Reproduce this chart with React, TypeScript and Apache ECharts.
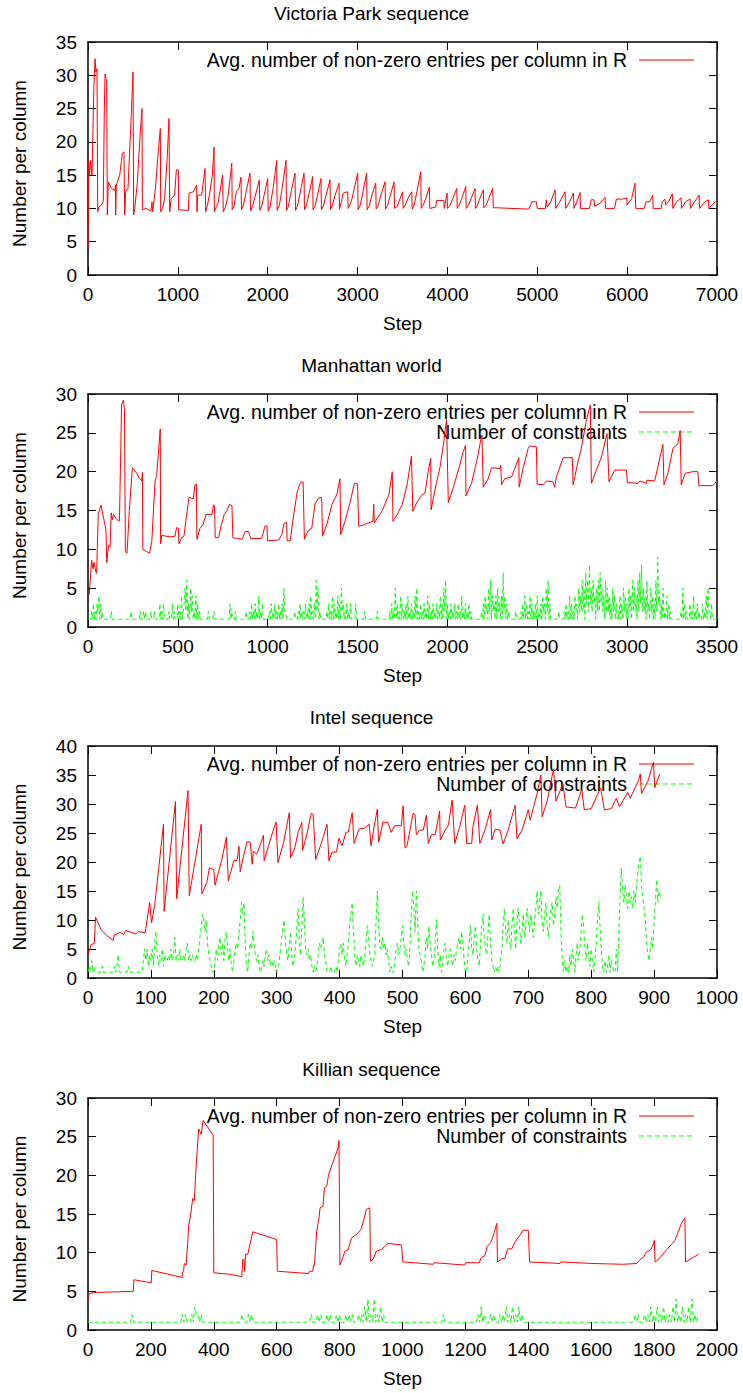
import React, { useEffect, useRef } from "react";
import * as echarts from "echarts";

const FONT = "'Liberation Sans', Arial, Helvetica, sans-serif";

const titles = ["Victoria Park sequence", "Manhattan world", "Intel sequence", "Killian sequence"];
const xMaxes = [7000, 3500, 1000, 2000];
const xIntervals = [1000, 500, 100, 200];
const yMaxes = [35, 30, 40, 30];
const yInterval = 5;
const xName = "Step";
const yName = "Number per column";
const legendR = "Avg. number of non-zero entries per column in R";
const legendC = "Number of constraints";

// Victoria Park: avg non-zeros per column (step, value)
const victoriaR = [
  [0,4],[8,17],[18,15],[28,17.2],[45,15],[65,28],[78,32.5],[88,30.5],[100,31],[108,9.5],[120,10.2],[150,10.5],[170,11],[182,25],[190,30.2],[208,29],[215,9],[226,14],[260,13],[300,12.7],[305,13.5],[308,9],[315,13.5],[353,15],[382,18.3],[400,18.5],[408,9],[419,12.5],[445,13],[475,22],[501,30.5],[508,9],[520,10],[550,14],[575,20],[601,25],[605,9.8],[649,10],[700,9.6],[712,11],[720,9.5],[750,13],[779,18],[805,22],[809,9.5],[830,10],[853,11.5],[883,18],[901,23.5],[909,9.5],[927,11.5],[964,12],[983,15.8],[1005,15.8],[1009,9.8],[1117,9.7],[1124,12.3],[1172,12.5],[1209,13.5],[1213,9.5],[1220,12],[1265,12],[1302,16],[1310,9.5],[1330,10.5],[1350,12],[1384,15],[1403,19.2],[1406,9.5],[1430,10.3],[1450,11],[1498,15],[1505,9.5],[1530,10.2],[1560,12],[1600,16.8],[1605,9.8],[1625,10.3],[1650,12.5],[1680,13],[1703,14.7],[1708,9.8],[1730,10.5],[1760,12.5],[1803,15.3],[1808,9.6],[1830,10.3],[1860,11.8],[1907,14.3],[1912,9.7],[1935,10.4],[1960,12],[2000,14.5],[2005,9.6],[2025,10.2],[2060,13],[2100,17.2],[2105,9.7],[2130,10.5],[2160,13],[2204,17.2],[2209,9.7],[2230,10.3],[2260,12.5],[2304,15.3],[2309,9.7],[2330,10.3],[2360,12.3],[2404,15.3],[2409,9.8],[2430,10.4],[2460,12.2],[2500,14.8],[2505,9.8],[2525,10.3],[2555,12],[2593,14.5],[2598,9.8],[2620,10.4],[2650,12],[2693,14.3],[2698,9.8],[2720,10.5],[2750,12],[2794,13.8],[2799,9.9],[2820,11],[2840,12.3],[2890,12.5],[2895,10],[2930,11],[2960,12.8],[3001,15.3],[3006,9.8],[3030,10.5],[3060,12.5],[3101,15.3],[3106,9.8],[3130,10.4],[3160,12],[3202,13.8],[3207,9.9],[3230,10.5],[3260,12],[3306,14],[3311,9.9],[3335,10.5],[3365,12],[3406,14],[3411,10],[3440,10.3],[3460,11],[3502,12.5],[3507,10],[3530,10.5],[3560,11.5],[3603,12.5],[3608,9.9],[3630,10.5],[3660,12.5],[3703,15.5],[3708,10],[3730,10.5],[3760,11.5],[3799,13.2],[3804,10],[3870,10.2],[3880,11.2],[3960,11.2],[3965,10],[3996,12.3],[4001,10],[4030,10.5],[4060,11.5],[4104,13],[4109,10],[4130,10.5],[4160,11.5],[4204,13.3],[4209,10],[4235,10.5],[4265,11.5],[4307,13],[4312,10],[4335,10.5],[4360,11.5],[4400,12.8],[4405,10.1],[4430,10.5],[4460,11.5],[4504,13],[4510,10.1],[4540,10.1],[4900,9.9],[4920,10.3],[4940,11],[4990,11],[5000,10],[5090,10],[5100,11.3],[5110,10.2],[5150,11],[5198,12.8],[5205,10],[5250,11],[5309,12.5],[5315,10],[5360,11],[5402,12.3],[5408,10],[5440,11],[5476,12.4],[5480,10],[5580,10],[5600,11.3],[5630,11.3],[5640,10.3],[5700,10.8],[5754,11.7],[5760,10],[5860,10],[5880,11.4],[5950,11.4],[5996,11.6],[6000,10.5],[6050,11.5],[6088,13.8],[6095,10],[6190,10],[6210,11],[6250,11],[6285,12],[6290,10],[6380,10],[6390,11],[6420,11.4],[6430,10.5],[6460,11],[6503,12.2],[6508,10],[6550,11],[6600,11.6],[6605,10],[6650,11],[6700,11.4],[6705,10],[6750,11],[6801,12],[6806,10],[6850,10.8],[6904,11.3],[6910,10],[6980,11]
];

// Manhattan world: avg non-zeros per column
const manhattanR = [
  [0,4],[7,4.2],[20,8.6],[28,7.5],[33,8.3],[45,7],[48,6.9],[57,14.5],[72,15.7],[100,12.5],[104,8.3],[114,10.5],[123,10.3],[129,14.7],[135,13.8],[142,14.5],[155,14],[168,13.7],[175,13.7],[187,28.7],[197,29.2],[203,28],[208,9.7],[217,9.5],[230,15],[247,20.5],[271,19.8],[285,19.2],[299,18.8],[303,19.9],[305,10],[327,9.7],[342,9.5],[355,11],[373,18.8],[382,19.5],[402,25.5],[404,10.7],[410,11.8],[456,11.6],[484,11.7],[493,12.8],[503,12.7],[506,10.7],[521,11.5],[534,11.7],[549,14.5],[562,16.7],[586,16.5],[595,18.3],[603,18.4],[606,11.3],[623,12.7],[640,13.2],[657,14.5],[690,14.5],[698,15.7],[704,15.6],[708,11.5],[727,11.5],[740,13],[758,14.5],[773,15],[788,15.8],[801,15.6],[806,11.5],[857,11.3],[875,12.3],[893,12.3],[905,11.4],[966,11.4],[985,13],[996,13],[999,11.1],[1062,11.2],[1080,12],[1090,13.3],[1105,13.5],[1108,11.1],[1125,11.1],[1145,14.5],[1164,17.4],[1182,18.6],[1197,18.7],[1204,11.3],[1225,12.4],[1245,12.7],[1263,15.8],[1282,16.6],[1300,16.7],[1305,11.7],[1330,13.3],[1358,15.8],[1385,17.1],[1402,19.1],[1406,11.9],[1430,13.6],[1458,16],[1482,18.5],[1500,18.4],[1506,13],[1530,13.1],[1548,13.3],[1585,13.6],[1590,15.8],[1593,13.4],[1610,14],[1638,15],[1675,17.1],[1693,20],[1697,13.6],[1721,14.5],[1749,15.8],[1777,18.5],[1800,22],[1807,14.9],[1829,16],[1857,17],[1875,17.2],[1894,20.2],[1907,21.7],[1909,15.1],[1931,17.7],[1959,20.6],[1977,23.4],[1995,26.7],[2005,16],[2033,18],[2061,20.2],[2088,22.6],[2101,23.4],[2103,16.9],[2134,18.5],[2171,22.2],[2186,24.2],[2192,24.7],[2199,18],[2227,19.1],[2245,20.5],[2292,20.4],[2297,20.8],[2301,18.3],[2319,19.1],[2356,19.3],[2375,20.4],[2397,21.8],[2399,18],[2421,20.4],[2449,23],[2458,23.3],[2495,23.2],[2499,18.4],[2532,18.3],[2551,18.8],[2588,18.7],[2597,18],[2606,19.3],[2644,21.8],[2671,21.8],[2695,21.8],[2699,18.3],[2727,21.3],[2745,23],[2773,26.6],[2795,28.6],[2801,18.5],[2829,20.2],[2857,21.9],[2888,24.9],[2899,18.7],[2931,20.2],[2996,20.2],[3001,18.6],[3060,18.5],[3070,18.8],[3107,18.5],[3110,18.9],[3153,18.8],[3199,23.5],[3205,18.3],[3227,19.8],[3255,23],[3282,23.6],[3295,25.3],[3301,18.3],[3323,19.8],[3366,20],[3393,20],[3399,18.2],[3477,18.2],[3499,18.8]
];

// Manhattan world: number of constraints, one value every 5 steps from step 0 (20 values per 100 steps)
const manhattanCStep = 5;
const manhattanC = [
  1,1,1,1,2,1,3,1,2,1,3,2,4,1,3,1,2,1,1,1,
  1,1,1,1,1,1,2,1,1,1,1,1,1,1,1,1,1,1,1,1,
  1,1,1,1,1,1,1,1,2,1,1,1,1,1,1,1,1,1,2,1,
  1,1,2,1,2,1,1,1,1,1,2,1,1,1,2,1,1,1,1,1,
  3,1,2,1,3,1,1,1,1,1,2,1,1,1,3,1,2,1,1,1,
  3,1,2,1,4,1,2,3,5,2,6,1,3,1,5,2,4,1,2,1,
  4,1,3,1,2,1,1,1,1,1,1,1,1,1,2,1,1,1,1,1,
  2,1,1,1,1,1,1,1,1,1,1,1,1,1,1,1,1,1,3,1,
  2,1,1,1,2,1,1,1,1,1,1,1,1,1,1,1,2,1,1,1,
  2,1,3,1,2,1,3,1,2,1,4,1,2,1,3,1,1,1,1,1,
  1,1,2,1,3,1,2,1,3,1,2,1,3,1,2,1,3,1,5,2,
  2,1,1,1,1,1,1,1,1,1,2,1,1,1,2,1,3,1,2,1,
  2,1,3,1,2,1,3,1,4,1,2,1,3,1,6,2,5,1,2,1,
  1,1,1,1,1,1,2,1,3,1,2,1,4,1,3,1,2,1,4,1,
  3,1,5,2,3,1,2,1,3,1,2,1,3,1,1,1,1,1,3,1,
  1,1,1,1,1,1,1,1,2,1,1,1,1,1,1,1,1,1,1,1,
  1,1,2,1,1,1,1,1,1,1,1,1,1,1,1,1,2,1,3,1,
  2,1,5,1,3,1,2,1,4,1,3,1,2,1,3,1,4,1,2,1,
  3,1,2,1,4,1,5,1,2,1,3,1,2,1,3,1,2,1,4,1,
  3,1,2,1,3,1,2,1,3,1,2,1,4,1,3,1,5,2,6,1,
  3,1,2,1,3,1,2,1,3,1,2,1,3,1,2,1,4,1,2,1,
  3,1,2,1,3,1,2,1,1,1,1,1,1,1,1,1,1,1,2,1,
  3,1,4,2,3,1,5,2,6,1,4,2,3,1,4,1,5,2,3,1,
  4,1,7,2,4,1,3,1,2,1,1,1,1,1,1,1,2,1,1,1,
  1,1,2,1,3,1,4,1,3,1,2,1,4,1,3,1,2,1,3,1,
  4,1,2,1,3,1,4,2,3,1,5,2,6,1,3,1,1,1,1,1,
  1,1,1,1,2,1,1,1,1,1,2,1,3,1,2,1,4,1,3,1,
  2,1,4,2,3,1,5,2,4,2,6,2,5,1,7,3,6,2,8,3,
  5,2,6,3,4,1,5,2,6,2,7,3,5,2,4,1,6,2,5,2,
  4,1,3,1,5,2,4,1,3,1,2,1,4,1,3,1,5,2,4,1,
  3,1,5,2,4,1,6,2,5,2,4,1,6,2,7,3,8,2,5,2,
  4,1,6,2,3,1,5,2,4,1,3,1,6,2,9,3,4,1,3,1,
  5,1,2,1,4,1,3,1,2,1,1,1,1,1,1,1,1,1,1,1,
  2,1,5,1,3,1,2,1,1,1,3,1,2,1,4,1,2,1,3,1,
  2,1,1,1,3,1,2,1,4,1,5,2,2,1,3,1,1,1,1,1,
  1
];

// Intel: avg non-zeros per column
const intelR = [
  [0,4],[5,5.8],[10,5.9],[12,10.5],[21,8.3],[30,7.3],[40,6.5],[42,7.5],[48,7.6],[50,7.9],[57,7.5],[60,8.2],[76,7.6],[80,8],[91,7.8],[98,13],[101,9.5],[106,12.5],[120,26.5],[121,11.5],[139,30.4],[141,13.7],[159,32.3],[161,14.2],[180,26.5],[181,14.5],[189,16.5],[193,19],[200,18.7],[202,16],[213,20.5],[220,24.3],[223,16.7],[232,20.3],[237,20.2],[240,22.7],[242,18.3],[247,20.9],[253,23.5],[258,23.4],[261,19.6],[263,21.9],[268,21.3],[274,23],[279,24.6],[280,20.2],[287,22.8],[293,25],[299,26.9],[302,19.9],[311,23.4],[320,28.5],[322,20.7],[329,22.5],[334,25.1],[340,26.8],[341,22],[348,24.8],[355,28.4],[358,28.2],[362,20.4],[372,23.6],[380,26.5],[383,20.2],[388,21.7],[395,21.7],[399,24.1],[404,22.8],[410,25.1],[414,25.2],[420,28.5],[423,23.2],[431,25.7],[439,25.8],[447,26.5],[450,22.8],[455,26.2],[460,29.1],[462,23.4],[469,26.9],[477,26.8],[482,25.1],[487,26.2],[493,26.3],[498,26.2],[501,29.7],[504,22.4],[507,22.7],[517,28.4],[520,28.1],[522,24.7],[527,25.5],[533,25.5],[538,28.1],[541,23.2],[546,24.7],[552,24.7],[559,28.8],[560,23.8],[568,25.5],[573,26.4],[579,30.7],[583,23.2],[591,26.1],[599,29.8],[602,23.2],[610,23.2],[612,26.1],[619,29.8],[623,23.2],[631,25.5],[640,29],[642,23.8],[647,25.6],[655,25.5],[660,23.1],[668,25.5],[679,29.8],[682,24],[690,25.5],[700,29],[703,27.2],[714,31.8],[720,35],[722,27.8],[730,30.5],[740,36],[744,30.5],[755,33.5],[760,29.5],[775,29.3],[785,32.5],[789,29],[800,29.2],[815,32.8],[821,29],[832,29.2],[840,31],[845,29.5],[858,32],[862,31],[875,34],[878,35.2],[880,31.8],[890,33.9],[899,37.2],[901,32.8],[909,35.2]
];

// Intel: number of constraints (step, value)
const intelC = [
  [0,1],[2,2],[4,1],[6,3],[8,1],[10,2],[12,1],[20,1],[23,2],[25,1],[40,1],[42,2],[44,1],[46,2],[48,4],[50,1],[62,1],[64,2],[66,1],[86,1],[88,3],[90,5],
  [92,3],[94,5],[96,2],[98,4],[100,3],[102,5],[104,2],[106,6],[108,8],[110,4],[112,2],[114,4],[116,3],[118,5],[120,2],[122,4],[124,3],[126,3],[128,4],[130,3],[132,5],[134,3],[136,4],[138,7],[140,3],[142,4],[144,3],[146,5],[148,3],[150,3],[152,4],[154,3],[156,5],[158,6],[160,3],[162,4],[164,3],[166,4],[168,3],[170,3],[172,4],[174,3],[176,5],[178,7],[180,9],[182,11],[184,10],[186,8],[188,10],[190,6],[192,4],[194,3],[196,2],[198,1],[200,1],
  [202,3],[204,5],[206,3],[208,6],[210,7],[212,4],[214,6],[216,3],[218,7],[220,8],[222,5],[224,3],[226,5],[228,2],[230,1],[232,3],[234,5],[236,6],[238,5],[240,8],[242,10],[244,13],[246,11],[248,13],[250,6],[252,2],[254,1],[256,4],[258,6],[260,5],[262,8],[264,6],[266,4],[268,3],[270,4],[272,2],[274,1],
  [276,2],[278,3],[280,2],[282,4],[284,5],[286,3],[288,4],[290,2],[292,3],[294,2],[296,3],[298,2],[300,1],[303,2],[306,5],[309,8],[312,10],[314,6],[316,4],[318,3],[320,6],[322,8],[324,4],[326,2],[328,3],[331,7],[334,12],[336,6],[338,4],[340,9],[342,14],[344,10],[346,5],[348,4],[350,5],[352,3],[354,4],[356,2],
  [358,1],[360,2],[362,1],[364,2],[366,4],[368,6],[370,5],[372,6],[374,7],[376,4],[378,3],[380,1],[384,1],[386,2],[388,1],[392,1],[394,2],[396,1],[398,3],[400,5],[402,6],[404,4],[406,6],[408,3],[410,2],[412,4],[414,6],[416,9],[418,11],[420,13],[422,8],[424,4],[426,2],[428,4],[430,3],[432,2],[434,4],[436,3],[438,2],[440,4],[442,6],[444,9],[446,7],[448,4],[450,3],[452,2],[454,3],[456,4],[458,10],[460,15],[462,9],[464,6],[466,5],[468,7],[470,5],[472,6],[474,4],[476,5],[478,3],[480,1],[482,2],[484,1],[486,1],[488,3],[490,5],[492,6],[494,4],[496,5],[498,7],[500,9],[502,6],[504,4],[506,5],[508,3],[510,2],[512,6],[514,11],[516,15],[518,12],[520,8],[522,15],[524,10],[526,5],[528,4],[530,3],
  [532,1],[534,2],[536,4],[538,7],[540,5],[542,9],[544,6],[546,4],[548,2],[550,3],[552,6],[554,10],[556,5],[558,2],[560,4],[562,1],[564,3],[566,5],[568,6],[570,3],[572,2],[574,4],[576,5],[578,3],[580,2],[582,4],[584,3],[586,5],[588,6],[590,7],[592,5],[594,8],[596,6],[598,3],[600,1],[602,1],[604,4],[606,6],[608,9],[610,5],[612,4],[614,7],[616,9],[618,5],[620,3],[622,2],[624,6],[626,9],[628,11],[630,7],[632,5],[634,4],[636,8],[638,11],[640,6],[642,3],[644,2],[646,1],[648,2],[650,1],[652,2],[654,1],[656,3],[658,5],[660,9],[662,12],[664,8],[666,6],[668,10],[670,7],[672,5],[674,9],[676,12],[678,8],[680,5],[682,10],[684,12],[686,9],[688,6],[690,8],[692,11],[694,7],[696,9],[698,12],[700,10],[702,8],[704,11],[706,9],[708,7],[710,10],[712,12],[714,15],[716,11],[718,13],[720,15],[722,10],[724,8],[726,11],[728,13],[730,9],[732,7],[734,10],[736,12],[738,13],[740,9],[742,11],[744,14],[746,12],[748,15],[750,16],[752,8],[754,3],[756,1],[758,3],[760,1],[762,2],[764,1],[766,4],[768,2],[770,5],[772,3],[774,1],[776,4],[778,6],[780,3],[782,5],[784,8],[786,11],[788,9],[790,5],[792,3],[794,6],[796,4],[798,2],[800,5],[802,3],[804,1],[806,3],[808,6],[810,10],[812,13],[814,9],[816,5],[818,2],[820,1],[822,3],[824,1],[826,2],[828,4],[830,1],[832,3],[834,2],[836,1],[838,1],[840,5],[842,1],[844,8],[846,14],[848,19],[850,15],[852,13],[854,16],[856,14],[858,12],[860,15],[862,13],[864,14],[866,12],[868,15],[870,13],[872,16],[874,18],[876,20],[878,21],[880,16],[882,14],[884,12],[886,10],[888,6],[890,4],[892,3],[894,5],[896,7],[898,5],[900,10],[902,13],[904,17],[906,13],[908,15],[910,14]
];

// Killian: avg non-zeros per column
const killianR = [
  [0,4],[4,4.7],[20,4.85],[144,5],[146,6.5],[201,6.1],[203,7.7],[299,6.8],[301,7.5],[304,7.6],[306,8.6],[312,8.4],[318,11.9],[320,13.5],[325,14.5],[333,17],[338,16.7],[344,21.3],[352,26],[360,25.3],[366,27.1],[398,25.2],[400,7.4],[452,7.2],[489,6.9],[492,9.1],[496,9.1],[498,7.6],[501,9.8],[508,9.8],[524,12.7],[600,11.7],[602,7.6],[701,7.3],[704,7.6],[715,7.6],[717,8.4],[720,8.4],[727,12.7],[734,14.4],[738,15.8],[747,16],[752,18.4],[759,18.6],[765,20.1],[778,21.6],[787,22.6],[795,23.5],[798,24.5],[801,8.4],[806,8.9],[817,10.2],[827,10.4],[838,11.9],[848,12.2],[858,12.5],[869,13.1],[880,14.7],[885,15.6],[896,15.8],[898,8.9],[906,9.1],[917,10.2],[933,10.4],[943,10.8],[954,11.2],[997,11],[1001,8.8],[1098,8.5],[1101,8.7],[1198,8.4],[1201,8.7],[1244,8.7],[1251,9.4],[1262,9.6],[1269,10.8],[1280,11.3],[1288,12.1],[1300,13.8],[1302,8.8],[1316,9.2],[1326,9.3],[1334,10.5],[1348,10.5],[1358,11.4],[1369,12],[1376,12.4],[1383,12.9],[1400,12.9],[1404,8.8],[1501,8.6],[1504,8.8],[1602,8.6],[1702,8.5],[1745,8.6],[1755,9.1],[1766,9.4],[1776,10.1],[1787,10.3],[1795,10.8],[1801,11.6],[1803,8.8],[1813,9.1],[1830,9.9],[1840,10.4],[1856,11.1],[1866,11.6],[1877,12.7],[1887,13.8],[1898,14.5],[1900,8.8],[1925,9.4],[1941,9.8]
];

// Killian: number of constraints, one value every 5 steps from step 0 (20 values per 100 steps)
const killianCStep = 5;
const killianC = [
  1,1,1,1,1,1,1,1,1,1,1,1,1,1,1,1,1,1,1,1,
  1,1,1,1,1,1,1,1,2,1,1,1,1,1,1,1,1,1,1,1,
  1,1,1,1,1,1,1,1,1,1,1,1,1,1,1,1,1,1,1,1,
  2,1,2,1,1,1,2,1,3,2,2,1,2,1,1,1,1,1,1,1,
  1,1,1,1,1,1,1,1,1,1,1,1,1,1,1,1,1,1,2,1,
  1,1,2,1,2,1,1,1,1,1,1,1,1,1,1,1,1,1,1,1,
  1,1,1,1,1,1,1,1,1,1,1,1,1,1,1,1,1,1,1,1,
  1,1,2,1,1,1,2,1,2,1,1,1,2,1,2,1,1,1,2,1,
  2,1,1,1,2,1,2,1,2,1,1,1,2,1,2,1,3,1,4,1,
  2,1,4,1,2,1,3,1,2,1,1,1,1,1,1,1,1,1,1,1,
  1,1,1,1,1,1,1,1,1,1,1,1,1,1,1,1,1,1,1,1,
  1,1,1,1,1,1,2,1,1,1,1,1,1,1,1,1,1,1,1,1,
  1,1,1,1,1,1,1,1,2,1,3,1,2,1,1,1,2,1,2,1,
  1,1,2,1,2,1,3,1,2,1,3,1,2,1,3,1,2,1,1,1,
  1,1,1,1,1,1,1,1,1,1,1,1,1,1,1,1,1,1,1,1,
  1,1,1,1,1,1,1,1,1,1,1,1,1,1,1,1,1,1,1,1,
  1,1,1,1,1,1,1,1,1,1,1,1,1,1,1,1,1,1,1,1,
  1,1,1,1,1,1,1,1,2,1,2,1,1,1,2,1,2,1,3,1,
  2,1,3,1,2,1,3,1,2,1,2,1,3,1,4,1,2,1,3,1,
  2,1,3,1,4,1,2,1,2
];

const GRID_LEFT = 88;
const GRID_WIDTH = 629;
const gridTops = [42, 394, 746, 1098];
const gridHeights = [233, 233, 232, 232];

function stepSeries(values: number[], step: number) {
  return values.map((v, k) => [k * step, v]);
}

function buildOption() {
  const redData = [victoriaR, manhattanR, intelR, killianR];
  const greenData: (number[][] | null)[] = [
    null,
    stepSeries(manhattanC, manhattanCStep),
    intelC,
    stepSeries(killianC, killianCStep),
  ];
  const textBase = { color: "#000", fontFamily: FONT, fontSize: 19 };
  const lineAxis = { show: true, onZero: false, lineStyle: { color: "#000", width: 1.5 } };
  const tick = { show: true, inside: true, length: 8, lineStyle: { color: "#000", width: 1 } };
  const plain = (v: number) => String(v);

  const grid: any[] = [];
  const xAxis: any[] = [];
  const yAxis: any[] = [];
  const series: any[] = [];
  const title: any[] = [];
  const graphic: any[] = [];

  for (let i = 0; i < 4; i++) {
    grid.push({ left: GRID_LEFT, top: gridTops[i], width: GRID_WIDTH, height: gridHeights[i] });
    title.push({
      text: titles[i],
      left: "center",
      top: gridTops[i] - 43,
      textStyle: { ...textBase, fontWeight: "normal" },
    });
    const xCommon = {
      type: "value", gridIndex: i, min: 0, max: xMaxes[i], interval: xIntervals[i],
      axisLine: lineAxis, axisTick: tick, splitLine: { show: false },
    };
    xAxis.push({
      ...xCommon, position: "bottom",
      name: xName, nameLocation: "middle", nameGap: 39, nameTextStyle: textBase,
      axisLabel: { ...textBase, margin: 10, formatter: plain },
    });
    xAxis.push({ ...xCommon, position: "top", axisLabel: { show: false } });
    const yCommon = {
      type: "value", gridIndex: i, min: 0, max: yMaxes[i], interval: yInterval,
      axisLine: lineAxis, axisTick: tick, splitLine: { show: false },
    };
    yAxis.push({
      ...yCommon, position: "left",
      name: yName, nameLocation: "middle", nameGap: 59, nameRotate: 90,
      nameTextStyle: { ...textBase, padding: [0, 10, 0, 0] },
      axisLabel: { ...textBase, margin: 11, formatter: plain },
    });
    yAxis.push({ ...yCommon, position: "right", axisLabel: { show: false } });

    series.push({
      type: "line", name: legendR, xAxisIndex: 2 * i, yAxisIndex: 2 * i,
      data: redData[i], showSymbol: false, symbol: "none", silent: true,
      lineStyle: { color: "#ff0000", width: 1 }, itemStyle: { color: "#ff0000" },
    });
    const g = greenData[i];
    if (g) {
      series.push({
        type: "line", name: legendC, xAxisIndex: 2 * i, yAxisIndex: 2 * i,
        data: g, showSymbol: false, symbol: "none", silent: true,
        lineStyle: { color: "#00ff00", width: 1, type: [4, 3] }, itemStyle: { color: "#00ff00" },
      });
    }

    const rowY = [gridTops[i] + 18, gridTops[i] + 38];
    const rows = g ? 2 : 1;
    for (let r = 0; r < rows; r++) {
      graphic.push({
        type: "text", x: 627, y: rowY[r], silent: true,
        style: {
          text: r === 0 ? legendR : legendC, fill: "#000", font: `19.5px ${FONT}`,
          align: "right", verticalAlign: "middle", textAlign: "right", textVerticalAlign: "middle",
        },
      });
      graphic.push({
        type: "line", silent: true,
        shape: { x1: 639, y1: rowY[r], x2: 694, y2: rowY[r] },
        style: r === 0
          ? { stroke: "#ff0000", lineWidth: 1 }
          : { stroke: "#00ff00", lineWidth: 1, lineDash: [5, 3] },
      });
    }
  }

  return {
    animation: false,
    backgroundColor: "#ffffff",
    title, grid, xAxis, yAxis, series, graphic,
  };
}

export default function App() {
  const ref = useRef<HTMLDivElement>(null);
  useEffect(() => {
    if (!ref.current) return;
    const chart = echarts.init(ref.current, undefined, { renderer: "svg" });
    chart.setOption(buildOption() as any);
    return () => chart.dispose();
  }, []);
  return (
    <div
      ref={ref}
      style={{ position: "absolute", left: 0, top: 0, width: 743, height: 1393, background: "#fff" }}
    />
  );
}
